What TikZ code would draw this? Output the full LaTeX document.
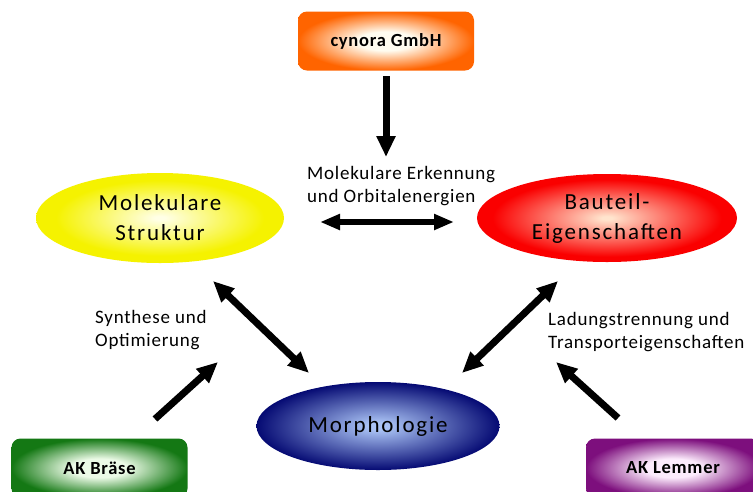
\documentclass[tikz,border=0pt]{standalone}
\usepackage{fontspec}
\setmainfont{Carlito}
\usetikzlibrary{arrows.meta,shapes.geometric}
\definecolor{orO}{RGB}{255,100,0}
\definecolor{orI}{RGB}{255,252,240}
\definecolor{yeO}{RGB}{245,242,0}
\definecolor{yeI}{RGB}{255,255,230}
\definecolor{reO}{RGB}{250,0,0}
\definecolor{reI}{RGB}{255,228,205}
\definecolor{blO}{RGB}{5,10,115}
\definecolor{blI}{RGB}{170,195,245}
\definecolor{grO}{RGB}{20,120,20}
\definecolor{grI}{RGB}{235,250,230}
\definecolor{puO}{RGB}{125,15,125}
\definecolor{puI}{RGB}{252,235,252}
\newcommand{\mkglow}[5]{\pgfdeclareradialshading{#1}{\pgfpoint{0bp}{0bp}}{color(0bp)=(#2); color(#5)=(#2); color(#4)=(#3); color(50bp)=(#3)}}
\mkglow{glowor}{orI}{orO}{25bp}{8bp}
\mkglow{glowye}{yeI}{yeO}{21bp}{1bp}
\mkglow{glowre}{reI}{reO}{22bp}{1bp}
\mkglow{glowbl}{blI}{blO}{25bp}{2bp}
\mkglow{glowgr}{grI}{grO}{25bp}{8bp}
\mkglow{glowpu}{puI}{puO}{25bp}{8bp}
\tikzset{
  boxnode/.style={rectangle, rounded corners=9pt, minimum width=176pt, minimum height=59pt,
    inner sep=0pt, font=\fontsize{18.5}{20}\selectfont\bfseries\addfontfeature{LetterSpace=4}},
  ellnode/.style={ellipse, inner sep=0pt, align=center,
    font=\fontsize{23}{30}\selectfont\addfontfeature{LetterSpace=8}},
  lbl/.style={anchor=west, align=left, inner sep=0pt,
    font=\fontsize{19}{23}\selectfont\addfontfeature{LetterSpace=4}},
  bigarrow/.style={line width=7pt, -{Triangle[width=18pt,length=21pt]}},
  dblarrow/.style={line width=7pt, {Triangle[width=18pt,length=21pt]}-{Triangle[width=18pt,length=21pt]}},
  hdblarrow/.style={line width=6pt, {Triangle[width=15pt,length=20pt]}-{Triangle[width=15pt,length=20pt]}},
}
\begin{document}
\begin{tikzpicture}[x=1pt,y=-1pt]
\useasboundingbox (0,0) rectangle (753,491);
\clip (0,0) rectangle (753,491);
\fill[white] (0,0) rectangle (753,491);

% boxes
\node[boxnode, shading=glowor] (cyn) at (386,41) {cynora GmbH};
\node[boxnode, shading=glowgr] (akb) at (99.5,468) {AK Bräse};
\node[boxnode, shading=glowpu, minimum width=174pt] (akl) at (673,468) {AK Lemmer};

% ellipses
\node[ellnode, shading=glowye, minimum width=248pt, minimum height=90pt] (mol) at (160,218) {Molekulare\\Struktur};
\node[ellnode, shading=glowre, minimum width=260pt, minimum height=88pt] (bau) at (607,218) {Bauteil-\\Eigenschaften};
\node[ellnode, shading=glowbl, minimum width=243pt, minimum height=88pt] (mor) at (378,426) {Morphologie};

% labels
\node[lbl] (lmol) at (307,186) {Molekulare Erkennung\\und Orbitalenergien};
\node[lbl] (lsyn) at (95,330) {Synthese und\\Optimierung};
\node[lbl] (llad) at (548,332) {Ladungstrennung und\\Transporteigenschaften};

% arrow end points
\coordinate (c1) at (386,76);
\coordinate (c2) at (386,157);
\coordinate (h1) at (320,222);
\coordinate (h2) at (454,222);
\coordinate (d1) at (213,281);
\coordinate (d2) at (309,373);
\coordinate (e1) at (558,281);
\coordinate (e2) at (462,373);
\coordinate (s1) at (155,419);
\coordinate (s2) at (218,362);
\coordinate (t1) at (618,418);
\coordinate (t2) at (556,362);

% arrows
\draw[bigarrow] (c1) -- (c2);
\draw[hdblarrow] (h1) -- (h2);
\draw[dblarrow] (d1) -- (d2);
\draw[dblarrow] (e1) -- (e2);
\draw[bigarrow] (s1) -- (s2);
\draw[bigarrow] (t1) -- (t2);
\end{tikzpicture}
\end{document}
